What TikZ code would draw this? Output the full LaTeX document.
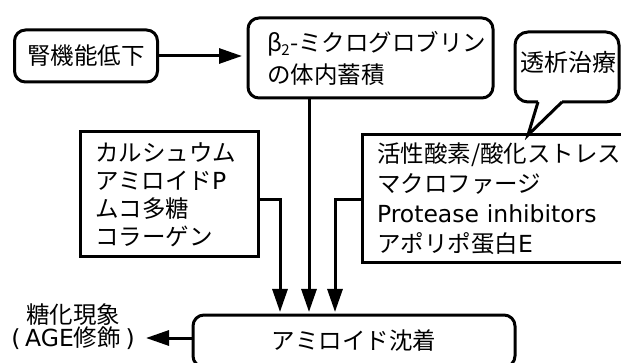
\documentclass[tikz,border=0pt]{standalone}
\usepackage{fontspec}
\setmainfont{Noto Sans CJK JP}
\newfontfamily\lat{DejaVu Sans}
\usetikzlibrary{arrows.meta}
\begin{document}
\begin{tikzpicture}[x=1pt,y=-1pt,
  lw/.style={line width=3pt},
  box/.style={draw,line width=3pt,outer sep=0pt,inner ysep=0pt},
  rbox/.style={box,rounded corners=11pt},
  arr/.style={line width=3pt,-{Triangle[length=23pt,width=15pt]}},
  txt/.style={font=\fontsize{23.5}{28}\selectfont}]
\useasboundingbox (0,0) rectangle (621,363);
% nodes
\node[rbox,txt,minimum width=143pt,minimum height=52pt] (kid) at (86,56) {腎機能低下};
\node[rbox,font=\fontsize{23.5}{32}\selectfont,minimum width=245pt,minimum height=80pt,
  text width=207pt,inner xsep=19pt,align=left] (b2) at (370.5,58)
  {\mbox{β\kern-0.5pt\raisebox{-0.2em}{\fontsize{15}{15}\selectfont 2}\kern0.5pt-ミクログロブリン}\\の体内蓄積};
\node[box,txt,minimum width=178pt,minimum height=125pt,
  text width=148pt,inner xsep=15pt,align=left] (lbox) at (169,194.5)
  {カルシュウム\\アミロイド{\lat P}\\ムコ多糖\\コラーゲン};
\node[box,font=\fontsize{23.5}{30}\selectfont,minimum width=278pt,minimum height=128pt,
  text width=248pt,inner xsep=15pt,align=left] (rbox) at (501,199)
  {活性酸素/酸化ストレス\\マクロファージ\\{\lat Protease inhibitors}\\アポリポ蛋白{\lat E}};
\node[rbox,txt,minimum width=322pt,minimum height=52pt] (amy) at (354,341) {アミロイド沈着};
\node[font=\fontsize{23.5}{23.5}\selectfont,align=center,inner sep=0pt] (age) at (73,326.5)
  {糖化現象\\{\lat(\kern0.2em AGE}修飾{\lat\kern0.2em)}};
\node[font=\fontsize{24}{28}\selectfont,anchor=west,inner sep=0pt] (dial) at (520,62) {透析治療};
% callout
\draw[lw,rounded corners=13pt] (538,102) -- (515,102) -- (515,32) -- (619,32) -- (619,102) -- (562,102);
\draw[lw,line join=miter] (538,102) -- (528,135) -- (562,102);
% coordinates
\coordinate (cM) at (309,0);
\coordinate (bendL) at (280,200);
\coordinate (bendR) at (335,200);
\coordinate (ageTip) at (146,338);
% connectors
\draw[arr,shorten >=6pt] (kid.east) -- (b2.west |- kid.east);
\draw[arr,shorten >=3pt] (b2.south -| cM) -- (amy.north -| cM);
\draw[arr,shorten >=3pt] (lbox.east |- bendL) -- (bendL) -- (bendL |- amy.north);
\draw[arr,shorten >=3pt] (rbox.west |- bendR) -- (bendR) -- (bendR |- amy.north);
\draw[arr] (amy.west |- ageTip) -- (ageTip);
\end{tikzpicture}
\end{document}
